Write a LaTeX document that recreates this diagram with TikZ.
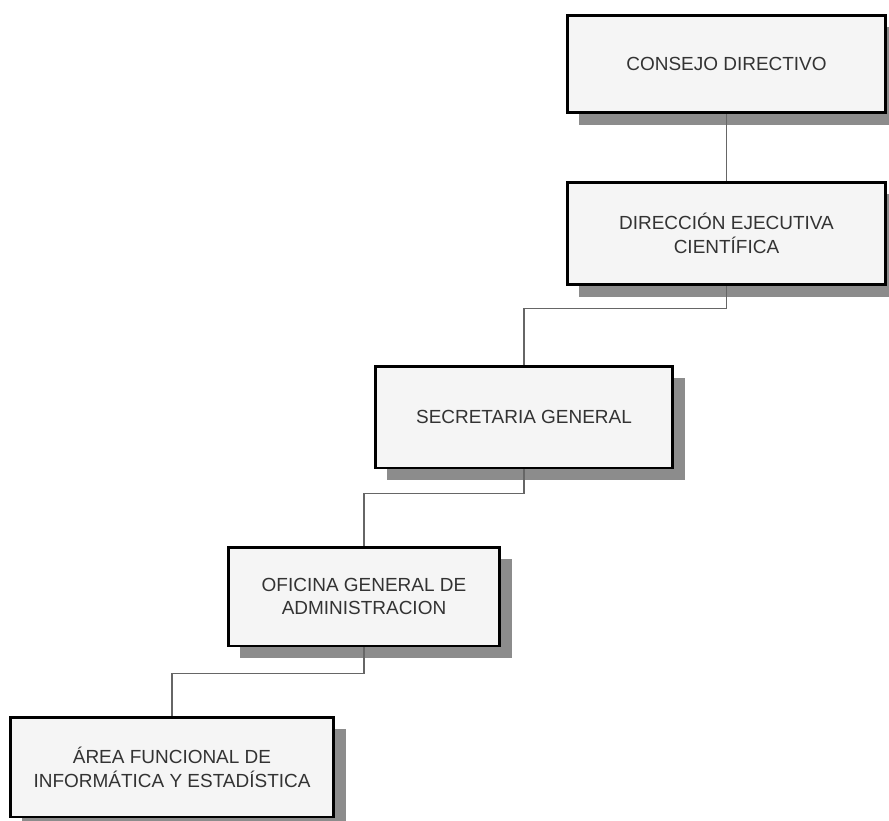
\documentclass[tikz,border=0pt]{standalone}
\usepackage{fontspec}
\setmainfont{Liberation Sans}
\usetikzlibrary{shadows}

\begin{document}
\begin{tikzpicture}[x=0.02cm,y=-0.02cm,
    unidad/.style={draw=black,line width=1.7pt,fill=black!4,align=center,
        text=black!80,font=\fontsize{10.8}{13.5}\selectfont,inner sep=0pt,
        drop shadow={shadow xshift=0.24cm,shadow yshift=-0.24cm,
            fill=black!45,opacity=1}},
    enlace/.style={draw=black!60,line width=0.9pt}]
    \useasboundingbox (0,0) rectangle (889,821);
    \foreach \nom/\cx/\cy/\ancho/\alto/\lab in {%
        cd/726.5/64/6.38/1.96/{CONSEJO DIRECTIVO},
        dec/726.5/233.5/6.38/2.06/{DIRECCIÓN EJECUTIVA\\CIENTÍFICA},
        sg/524/417/5.96/2.04/{SECRETARIA GENERAL},
        oga/364/596.5/5.44/1.98/{OFICINA GENERAL DE\\ADMINISTRACION},
        afie/172/767/6.48/2.0/{ÁREA FUNCIONAL DE\\INFORMÁTICA Y ESTADÍSTICA}%
    }{
        \node[unidad,minimum width=\ancho cm,minimum height=\alto cm]
            (\nom) at (\cx,\cy) {\lab};
    }
    \draw[enlace] (cd.south) -- (dec.north);
    \draw[enlace] (dec.south) -- ++(0,22) -| (sg.north);
    \draw[enlace] (sg.south) -- ++(0,24) -| (oga.north);
    \draw[enlace] (oga.south) -- ++(0,26) -| (afie.north);
\end{tikzpicture}
\end{document}
